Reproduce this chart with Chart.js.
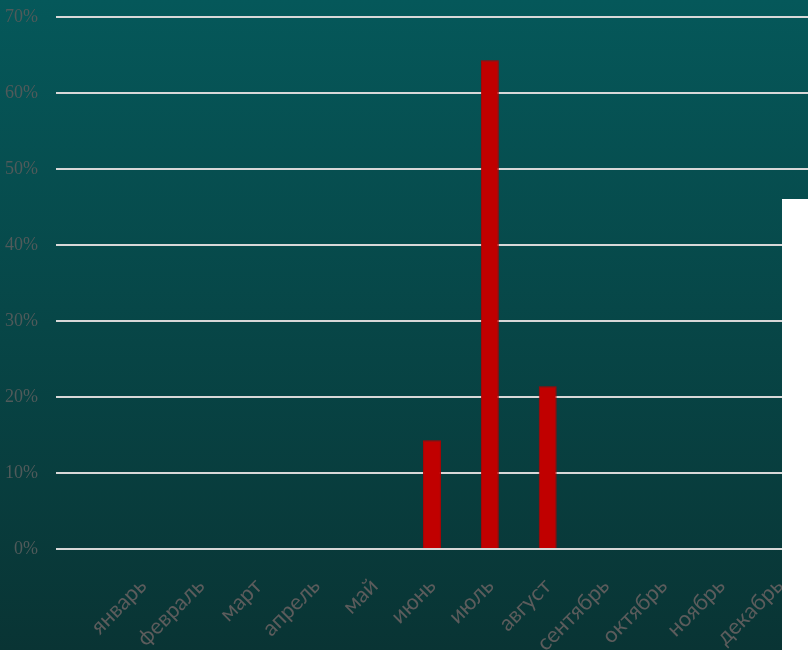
<!DOCTYPE html>
<html>
<head>
<meta charset="utf-8">
<script src="https://cdn.jsdelivr.net/npm/chart.js@4"></script>
<style>
  html, body { margin: 0; padding: 0; overflow: hidden; background: #073f40; }
  #wrap { position: relative; width: 808px; height: 650px; }
  #cover { position: absolute; left: 782px; top: 199px; width: 26px; height: 451px; background: #fff; }
</style>
</head>
<body>
<div id="wrap">
  <canvas id="chart" width="808" height="650"></canvas>
  <div id="cover"></div>
</div>
<script>
// first slot is left blank on the axis
const months = ["", "январь", "февраль", "март", "апрель", "май", "июнь",
  "июль", "август", "сентябрь", "октябрь", "ноябрь", "декабрь"];
const shares = [null, 0, 0, 0, 0, 0, 14.3, 64.3, 21.4, 0, 0, 0, 0];
const yTicks = [0, 10, 20, 30, 40, 50, 60, 70];

const bgGradient = {
  id: "bgGradient",
  beforeDraw(chart) {
    const { ctx, width, height } = chart;
    const g = ctx.createLinearGradient(0, 0, 0, height);
    g.addColorStop(0, "#05585a");
    g.addColorStop(1, "#093434");
    ctx.save();
    ctx.fillStyle = g;
    ctx.fillRect(0, 0, width, height);
    ctx.restore();
  },
};

new Chart(document.getElementById("chart"), {
  type: "bar",
  data: {
    labels: months,
    datasets: [
      {
        data: shares,
        backgroundColor: "#c00000",
        borderColor: "#b00000",
        borderWidth: 1,
        barPercentage: 0.31,
        categoryPercentage: 1,
      },
    ],
  },
  options: {
    responsive: false,
    animation: false,
    layout: { padding: { top: 17, right: 0, left: 0, bottom: 0 } },
    plugins: { legend: { display: false }, tooltip: { enabled: false } },
    scales: {
      x: {
        grid: { display: false },
        border: { display: false },
        afterFit: s => {
          s.height = 101;
          s.paddingLeft = 0;
          s.paddingRight = 0;
        },
        ticks: {
          color: "#5c5c5c",
          font: { family: "Lato, 'Open Sans', sans-serif", size: 22 },
          minRotation: 45,
          maxRotation: 45,
          autoSkip: false,
          padding: 16,
        },
      },
      y: {
        min: 0,
        max: 70,
        afterFit: s => {
          s.width = 56;
          s.paddingTop = 0;
          s.paddingBottom = 0;
        },
        afterBuildTicks: s => { s.ticks = yTicks.map(v => ({ value: v })); },
        border: { display: false },
        grid: { color: "#d8d8d8", lineWidth: 2, drawTicks: false },
        ticks: {
          color: "#505a5a",
          font: { family: "'Liberation Serif', serif", size: 18 },
          padding: 18,
          callback: v => v + "%",
        },
      },
    },
  },
  plugins: [bgGradient],
});
</script>
</body>
</html>
